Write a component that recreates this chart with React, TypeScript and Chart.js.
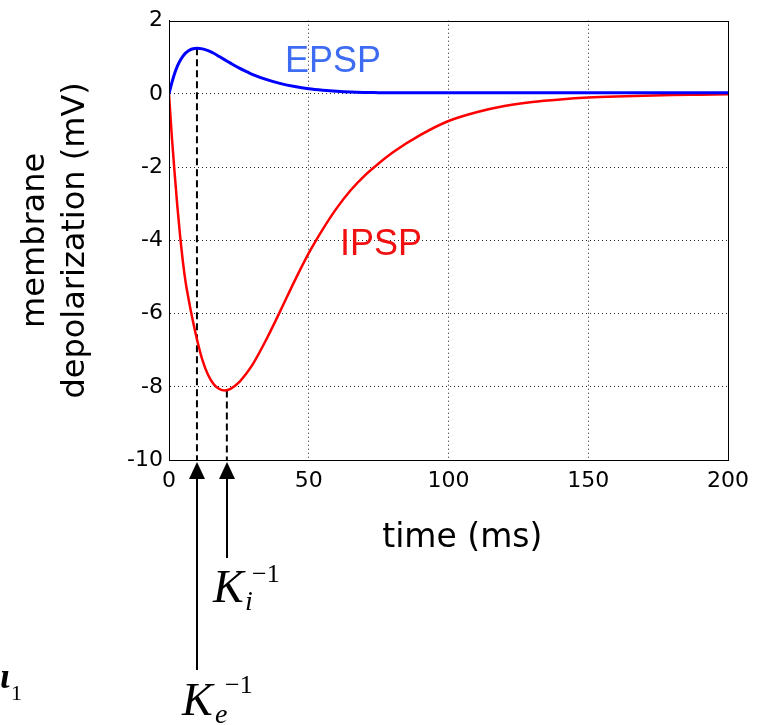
import { useEffect, useRef } from "react";
import { Chart, registerables } from "chart.js";

Chart.register(...registerables);

// ---- data ----
const timeMs = [0, 1, 2, 3, 4, 5, 6, 7, 8, 10, 12, 14, 16, 18, 20, 22, 25, 28, 30, 35, 40, 45, 50, 55, 60, 65, 70, 75, 80, 90, 100, 110, 120, 130, 140, 150, 160, 170, 180, 190, 200];
const epspMv = [0, 0.3, 0.56, 0.76, 0.91, 1.03, 1.12, 1.18, 1.22, 1.25, 1.23, 1.18, 1.11, 1.02, 0.93, 0.84, 0.71, 0.6, 0.53, 0.39, 0.28, 0.2, 0.14, 0.1, 0.07, 0.05, 0.04, 0.035, 0.03, 0.03, 0.03, 0.03, 0.03, 0.03, 0.03, 0.03, 0.03, 0.03, 0.03, 0.03, 0.03];
const ipspMv = [0, -1.15, -2.15, -3.08, -3.9, -4.6, -5.17, -5.6, -6.0, -6.7, -7.28, -7.68, -7.93, -8.06, -8.1, -8.06, -7.88, -7.6, -7.38, -6.68, -5.9, -5.1, -4.35, -3.7, -3.12, -2.63, -2.23, -1.9, -1.6, -1.12, -0.74, -0.5, -0.33, -0.22, -0.15, -0.1, -0.07, -0.05, -0.03, -0.02, -0.01];

const xTicks = [0, 50, 100, 150, 200];
const yTicks = [-10, -8, -6, -4, -2, 0, 2];

// time-constant markers (K_e^-1, K_i^-1)
const markerTimes = [10, 20.7];
const markerTops = [1.25, -8.1];
const markerSubs = ["e", "i"];

// curve labels
const curveLabels = ["EPSP", "IPSP"];
const curveLabelX = [41.5, 61.2];
const curveLabelY = [0.6, -4.4];
const curveLabelColors = ["#3d6cf2", "#f01010"];

const TICK_FONT = { family: "'DejaVu Sans', sans-serif", size: 22 };
const TITLE_FONT = "'DejaVu Sans', sans-serif";

export default function App() {
  const ref = useRef<HTMLCanvasElement>(null);

  useEffect(() => {
    const annot = {
      id: "annot",
      afterDraw(chart: any) {
        const ctx = chart.ctx;
        const { left, right, top, bottom } = chart.chartArea;
        const xs = chart.scales.x;
        const ys = chart.scales.y;
        ctx.save();
        // box
        ctx.strokeStyle = "#000";
        ctx.lineWidth = 1;
        ctx.strokeRect(Math.round(left) + 0.5, Math.round(top) + 0.5, Math.round(right - left), Math.round(bottom - top));

        // curve labels
        ctx.font = "36px 'Liberation Sans', Arial, sans-serif";
        ctx.textBaseline = "alphabetic";
        ctx.textAlign = "left";
        curveLabels.forEach((txt, i) => {
          ctx.fillStyle = curveLabelColors[i];
          ctx.fillText(txt, xs.getPixelForValue(curveLabelX[i]), ys.getPixelForValue(curveLabelY[i]));
        });

        // arrows + labels
        const lens = [210, 98];
        markerTimes.forEach((t, i) => {
          const px = Math.round(xs.getPixelForValue(t));
          const tip = bottom + 2;
          const base = bottom + 19;
          ctx.fillStyle = "#000";
          ctx.beginPath();
          ctx.moveTo(px, tip);
          ctx.lineTo(px - 8, base);
          ctx.lineTo(px + 8, base);
          ctx.closePath();
          ctx.fill();
          ctx.strokeStyle = "#000";
          ctx.lineWidth = 2;
          ctx.beginPath();
          ctx.moveTo(px, base - 1);
          ctx.lineTo(px, bottom + lens[i]);
          ctx.stroke();
        });

        // K_i^-1
        {
          const px = Math.round(xs.getPixelForValue(markerTimes[1]));
          ctx.fillStyle = "#000";
          ctx.font = "italic 46px 'Liberation Serif', serif";
          ctx.fillText("K", px - 14, bottom + 142);
          ctx.font = "italic 28px 'Liberation Serif', serif";
          ctx.fillText(markerSubs[1], px + 18, bottom + 150);
          ctx.font = "26px 'Liberation Serif', serif";
          ctx.fillText("\u22121", px + 25, bottom + 122);
        }
        // K_e^-1
        {
          const px = Math.round(xs.getPixelForValue(markerTimes[0]));
          ctx.fillStyle = "#000";
          ctx.font = "italic 46px 'Liberation Serif', serif";
          ctx.fillText("K", px - 15, bottom + 255);
          ctx.font = "italic 28px 'Liberation Serif', serif";
          ctx.fillText(markerSubs[0], px + 18, bottom + 263);
          ctx.font = "26px 'Liberation Serif', serif";
          ctx.fillText("\u22121", px + 28, bottom + 233);
        }
        // clipped fragment at bottom-left
        ctx.font = "bold italic 36px 'Liberation Serif', serif";
        ctx.fillText("\u03b9", 0, 688);
        ctx.font = "22px 'Liberation Serif', serif";
        ctx.fillText("1", 11, 700);
        ctx.restore();
      },
    };

    const chart = new Chart(ref.current!, {
      type: "line",
      data: {
        datasets: [
          {
            label: "EPSP",
            data: timeMs.map((t, i) => ({ x: t, y: epspMv[i] })),
            borderColor: "#0000ff",
            borderWidth: 3,
            pointRadius: 0,
            cubicInterpolationMode: "monotone",
          },
          {
            label: "IPSP",
            data: timeMs.map((t, i) => ({ x: t, y: ipspMv[i] })),
            borderColor: "#ff0000",
            borderWidth: 2.5,
            pointRadius: 0,
            cubicInterpolationMode: "monotone",
          },
          ...markerTimes.map((t, i) => ({
            label: "K" + markerSubs[i],
            data: [
              { x: t, y: markerTops[i] },
              { x: t, y: yTicks[0] },
            ],
            borderColor: "#000",
            borderWidth: 2,
            borderDash: [7, 4],
            pointRadius: 0,
          })),
        ],
      },
      options: {
        responsive: false,
        maintainAspectRatio: false,
        devicePixelRatio: 1,
        animation: false,
        layout: { padding: { left: 0, right: 33, top: 20.7, bottom: 0 } },
        plugins: { legend: { display: false }, tooltip: { enabled: false } },
        scales: {
          x: {
            type: "linear",
            min: 0,
            max: 200,
            afterBuildTicks: (s: any) => {
              s.ticks = xTicks.map((v) => ({ value: v }));
            },
            afterFit: (s: any) => {
              s.height = 265;
            },
            ticks: { font: TICK_FONT, color: "#000", padding: 8, maxRotation: 0, autoSkip: false },
            grid: {
              drawTicks: false,
              lineWidth: 1,
              color: (c: any) => (c.tick && (c.tick.value === 0 || c.tick.value === 200) ? "rgba(0,0,0,0)" : "#222"),
            },
            border: { display: true, color: "#000", width: 1, dash: [1, 3] },
            title: {
              display: true,
              text: "  \u2009time (ms)",
              color: "#000",
              font: { family: TITLE_FONT, size: 33, lineHeight: 1.2 },
              padding: { top: 0, bottom: 167 },
            },
          },
          y: {
            type: "linear",
            min: -10,
            max: 2,
            afterBuildTicks: (s: any) => {
              s.ticks = yTicks.map((v) => ({ value: v }));
            },
            afterFit: (s: any) => {
              s.width = 169;
            },
            ticks: { font: TICK_FONT, color: "#000", padding: 6 },
            grid: {
              drawTicks: false,
              lineWidth: 1,
              color: (c: any) => (c.tick && (c.tick.value === -10 || c.tick.value === 2) ? "rgba(0,0,0,0)" : "#222"),
            },
            border: { display: true, color: "#000", width: 1, dash: [1, 3] },
            title: {
              display: true,
              text: ["membrane", "depolarization (mV)"],
              color: "#000",
              font: { family: TITLE_FONT, size: 32, lineHeight: 1.25 },
              padding: { top: 16, bottom: 0 },
            },
          },
        },
      },
      plugins: [annot],
    } as any);
    return () => chart.destroy();
  }, []);

  return (
    <div style={{ position: "absolute", left: 0, top: 0, width: 761, height: 725, background: "#fff" }}>
      <canvas ref={ref} width={761} height={725} style={{ display: "block", width: 761, height: 725 }} />
    </div>
  );
}
